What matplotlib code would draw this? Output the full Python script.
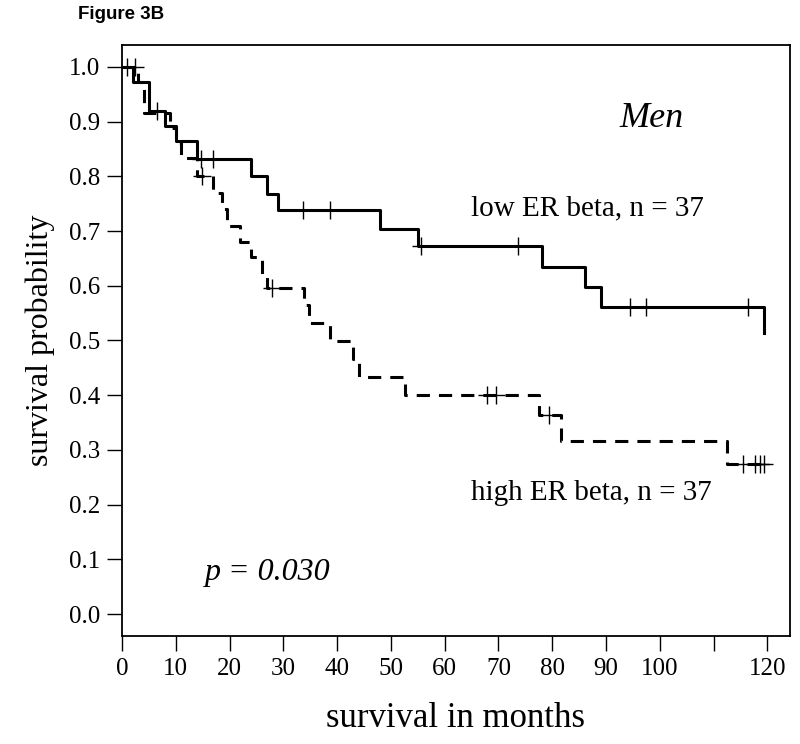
import numpy as np
import matplotlib
matplotlib.use("Agg")
import matplotlib.pyplot as plt

## Kaplan-Meier curves (months, survival probability)
low_times = [0, 2, 5, 8, 10, 14, 24, 27, 29, 48, 55, 78, 86, 89, 119.3]
low_surv = [1.0, 0.973, 0.919, 0.892, 0.865, 0.832, 0.80, 0.768, 0.738,
            0.704, 0.672, 0.635, 0.598, 0.561, 0.514]
low_censor = [1.0, 6.5, 14.6, 16.9, 33.7, 38.7, 55.5, 73.7, 94.4, 97.5, 116.4]

high_times = [0, 3, 4, 9, 10, 11, 14, 17, 18.5, 19.5, 22, 24, 26, 27, 33.9, 34.8,
              38.6, 43, 44, 52.6, 77.6, 81.6, 112.4, 119.3]
high_surv = [1.0, 0.973, 0.915, 0.889, 0.861, 0.833, 0.80, 0.77, 0.74, 0.71,
             0.68, 0.652, 0.622, 0.595, 0.564, 0.532, 0.499, 0.467, 0.433,
             0.401, 0.363, 0.317, 0.275, 0.275]
high_censor = [2.5, 14.8, 27.8, 67.8, 69.6, 79.4, 115.4, 117.7, 118.6, 119.3]

x_ticks = [0, 10, 20, 30, 40, 50, 60, 70, 80, 90, 100, 110, 120]
x_ticklabels = ['0', '10', '20', '30', '40', '50', '60', '70', '80', '90', '100', '', '120']
y_ticks = [0.0, 0.1, 0.2, 0.3, 0.4, 0.5, 0.6, 0.7, 0.8, 0.9, 1.0]


def level_at(times, surv, t):
    i = np.searchsorted(times, t, side='right') - 1
    return np.asarray(surv)[i]


plt.rcParams['font.family'] = ['Liberation Serif', 'DejaVu Serif']
plt.rcParams['lines.scale_dashes'] = False

fig = plt.figure(figsize=(8, 7.44), dpi=100)
ax = fig.add_axes([0.1525, 0.1452, 0.835, 0.7944])

ax.step(low_times, low_surv, where='post', color='black', lw=2.2)
ax.step(high_times, high_surv, where='post', color='black', lw=2.2,
        dashes=(9.5, 6.5))

ax.plot(low_censor, level_at(low_times, low_surv, low_censor), ls='none',
        marker='+', ms=13, mew=1.0, color='black')
ax.plot(high_censor, level_at(high_times, high_surv, high_censor), ls='none',
        marker='+', ms=13, mew=1.0, color='black')

ax.set_xlim(0, 124.2)
ax.set_ylim(-0.04, 1.04)
ax.set_xticks(x_ticks)
ax.set_xticklabels(x_ticklabels)
ax.set_yticks(y_ticks)
ax.set_yticklabels(['%.1f' % v for v in y_ticks])
ax.tick_params(direction='out', length=11, width=1.0, labelsize=18, pad=5)
for s in ax.spines.values():
    s.set_linewidth(1.3)

ax.set_xlabel('survival in months', fontsize=25, labelpad=16)
ax.set_ylabel('survival probability', fontsize=23, labelpad=10)

ax.text(98.5, 0.906, 'Men', fontsize=26, style='italic', ha='center', va='center')
ax.text(64.8, 0.741, 'low ER beta, n = 37', fontsize=21, ha='left', va='center')
ax.text(64.8, 0.222, 'high ER beta, n = 37', fontsize=21, ha='left', va='center')
ax.text(15.4, 0.076, 'p = 0.030', fontsize=23, style='italic', ha='left', va='center')

fig.text(0.0975, 0.98, 'Figure 3B', fontsize=13.5, fontweight='bold',
         family='Liberation Sans', ha='left', va='center')

fig.savefig('out.png', dpi=100)
